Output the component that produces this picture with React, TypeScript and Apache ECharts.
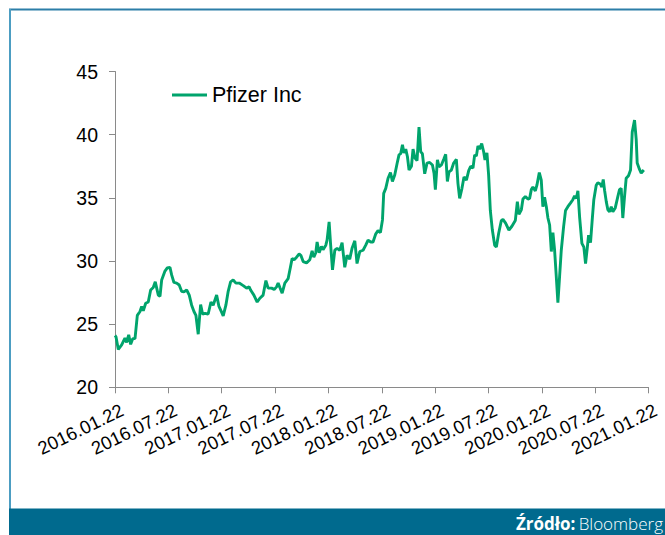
import React, { useEffect, useRef } from "react";
import * as echarts from "echarts";

const tickLabels = [
  "2016.01.22", "2016.07.22", "2017.01.22", "2017.07.22", "2018.01.22", "2018.07.22",
  "2019.01.22", "2019.07.22", "2020.01.22", "2020.07.22", "2021.01.22",
];

// months elapsed since 2016.01.22
const monthOffset = [
  0, 0.11, 0.37, 0.75, 1.12, 1.31, 1.54, 1.76, 1.99, 2.25, 2.51, 2.81, 3.0, 3.18, 3.45, 3.74,
  4.01, 4.3, 4.53, 4.69, 4.87, 5.06, 5.25, 5.62, 5.88, 6.18, 6.37, 6.63, 6.93, 7.22, 7.49, 7.75,
  8.06, 8.35, 8.62, 8.88, 9.1, 9.36, 9.47, 9.63, 9.85, 10.11, 10.48, 10.79, 11.04, 11.43, 11.69, 11.99,
  12.17, 12.47, 12.73, 13.0, 13.29, 13.6, 13.97, 14.42, 14.8, 15.09, 15.25, 15.62, 15.99, 16.29, 16.66, 16.97,
  17.22, 17.61, 17.9, 18.17, 18.35, 18.54, 18.8, 19.1, 19.47, 19.74, 19.92, 20.15, 20.42, 20.71, 20.9, 21.16,
  21.54, 21.91, 22.17, 22.36, 22.58, 22.73, 22.96, 23.22, 23.4, 23.71, 23.85, 24.08, 24.24, 24.46, 24.72, 24.98,
  25.28, 25.54, 25.84, 26.1, 26.4, 26.66, 26.97, 27.22, 27.53, 27.9, 28.2, 28.46, 28.76, 29.02, 29.33, 29.58,
  29.85, 30.08, 30.22, 30.45, 30.71, 30.98, 31.2, 31.46, 31.72, 31.94, 32.13, 32.33, 32.5, 32.7, 32.89, 33.07,
  33.34, 33.52, 33.74, 33.97, 34.19, 34.38, 34.57, 34.83, 35.09, 35.39, 35.7, 35.88, 36.03, 36.26, 36.44, 36.71,
  36.97, 37.19, 37.38, 37.56, 37.83, 38.09, 38.39, 38.57, 38.76, 39.02, 39.25, 39.52, 39.78, 40.0, 40.26, 40.45,
  40.64, 40.82, 41.01, 41.24, 41.46, 41.61, 41.83, 42.02, 42.21, 42.44, 42.7, 42.89, 43.15, 43.45, 43.63, 43.93,
  44.3, 44.64, 45.02, 45.25, 45.43, 45.7, 45.88, 46.15, 46.44, 46.63, 46.82, 47.0, 47.27, 47.45, 47.72, 47.94,
  48.12, 48.31, 48.51, 48.69, 48.88, 49.07, 49.25, 49.44, 49.63, 49.81, 50.0, 50.19, 50.45, 50.67, 50.93, 51.24,
  51.49, 51.69, 51.88, 52.06, 52.25, 52.51, 52.73, 52.92, 53.11, 53.26, 53.48, 53.67, 53.85, 54.12, 54.3, 54.57,
  54.75, 54.91, 55.06, 55.25, 55.43, 55.62, 55.81, 55.99, 56.26, 56.55, 56.74, 56.93, 57.11, 57.3, 57.49, 57.75,
  57.98, 58.17, 58.43, 58.62, 58.73, 58.99, 59.18, 59.47,
];

const price = [
  24.1, 24.0, 23.0, 23.35, 23.9, 23.55, 24.15, 23.4, 23.85, 23.85, 25.7, 26.0, 26.4, 26.05, 26.65, 26.75,
  27.7, 27.9, 28.35, 27.85, 27.3, 27.2, 28.5, 29.2, 29.45, 29.5, 28.9, 28.3, 28.25, 28.1, 27.6, 27.55,
  27.7, 27.3, 26.5, 26.0, 25.7, 24.2, 25.2, 26.55, 25.8, 25.85, 25.8, 26.75, 26.5, 27.3, 26.4, 25.95,
  25.65, 26.5, 27.6, 28.35, 28.5, 28.25, 28.25, 28.05, 27.85, 27.95, 27.7, 27.3, 26.75, 27.05, 27.3, 28.45,
  27.85, 27.85, 27.75, 27.95, 28.25, 27.9, 27.45, 28.25, 28.6, 29.55, 30.2, 30.1, 30.3, 30.55, 30.45, 29.95,
  29.85, 30.1, 30.8, 30.3, 30.65, 31.5, 30.65, 31.15, 30.9, 31.25, 31.65, 33.1, 31.4, 29.3, 30.85, 31.0,
  30.85, 31.45, 29.5, 30.45, 30.15, 31.0, 31.6, 29.8, 30.75, 30.85, 31.25, 31.65, 31.5, 31.5, 32.15, 32.4,
  32.25, 33.25, 35.35, 35.75, 36.55, 37.0, 36.3, 36.8, 37.7, 38.4, 38.5, 39.2, 38.55, 38.85, 38.25, 37.2,
  37.5, 38.85, 38.15, 37.95, 40.6, 38.65, 38.5, 36.9, 37.75, 37.8, 37.6, 36.95, 35.65, 38.0, 37.45, 37.6,
  38.05, 38.45, 36.3, 37.05, 37.2, 37.75, 38.05, 36.15, 34.95, 35.75, 36.65, 36.4, 37.15, 37.5, 37.35, 38.4,
  38.3, 39.1, 38.85, 39.3, 38.65, 38.0, 38.55, 36.8, 34.0, 32.45, 31.25, 31.1, 32.2, 33.2, 33.3, 33.0,
  32.45, 32.75, 33.2, 34.7, 33.7, 34.05, 34.9, 35.1, 34.9, 34.95, 35.65, 35.85, 35.55, 36.0, 37.0, 36.4,
  34.3, 35.05, 34.3, 33.4, 32.85, 30.75, 32.25, 30.85, 28.75, 26.7, 28.75, 30.85, 32.7, 34.0, 34.3, 34.6,
  34.85, 35.15, 34.95, 35.55, 33.5, 31.4, 31.1, 29.8, 31.0, 32.05, 31.45, 33.25, 34.85, 36.0, 36.2, 36.1,
  35.85, 36.45, 35.6, 34.7, 34.05, 33.9, 34.3, 33.9, 34.2, 35.1, 35.65, 35.75, 33.4, 35.05, 36.55, 36.75,
  37.2, 40.2, 41.15, 39.6, 37.75, 37.25, 36.95, 37.2,
];

const seriesName = "Pfizer Inc";
const sourceLabel = "Źródło:";
const sourceName = "Bloomberg";

export default function App() {
  const ref = useRef<HTMLDivElement>(null);

  useEffect(() => {
    const chart = echarts.init(ref.current!, null, { renderer: "svg" });
    const axisColor = "#8a8a8a";
    const lineColor = "#00a46c";
    chart.setOption({
      animation: false,
      backgroundColor: "#ffffff",
      grid: { left: 115, right: 16.5, top: 71.5, bottom: 147.7, containLabel: false },
      legend: {
        data: [seriesName],
        left: 167,
        top: 79,
        icon: "rect",
        itemWidth: 35,
        itemHeight: 3,
        textStyle: {
          fontSize: 21.5,
          color: "#000",
          fontFamily: "Liberation Sans, Arial, sans-serif",
        },
      },
      xAxis: {
        type: "value",
        min: 0,
        max: 60,
        interval: 6,
        splitLine: { show: false },
        axisLine: { show: true, lineStyle: { color: axisColor, width: 1 } },
        axisTick: { show: true, length: 6, lineStyle: { color: axisColor } },
        axisLabel: {
          rotate: 26,
          margin: 25,
          padding: [0, -8, 0, 0],
          fontSize: 18.5,
          color: "#000",
          fontFamily: "Liberation Sans, Arial, sans-serif",
          formatter: (v: number) => tickLabels[Math.round(v / 6)] ?? "",
        },
      },
      yAxis: {
        type: "value",
        min: 20,
        max: 45,
        interval: 5,
        splitLine: { show: false },
        axisLine: { show: true, lineStyle: { color: axisColor, width: 1 } },
        axisTick: { show: true, length: 6, lineStyle: { color: axisColor } },
        axisLabel: {
          margin: 17,
          fontSize: 19.5,
          color: "#000",
          fontFamily: "Liberation Sans, Arial, sans-serif",
        },
      },
      series: [
        {
          type: "line",
          name: seriesName,
          data: monthOffset.map((m, i) => [m, price[i]]),
          symbol: "none",
          lineStyle: { color: lineColor, width: 2.9 },
          itemStyle: { color: lineColor },
        },
      ],
      graphic: [
        {
          type: "line",
          shape: { x1: 9, y1: 9.5, x2: 665, y2: 9.5 },
          style: { stroke: "#2c7ea8", lineWidth: 2 },
        },
        {
          type: "line",
          shape: { x1: 10, y1: 9, x2: 10, y2: 509 },
          style: { stroke: "#4c9dc2", lineWidth: 2 },
        },
        {
          type: "rect",
          shape: { x: 9, y: 508.5, width: 656, height: 27 },
          style: { fill: "#006a8e" },
        },
        {
          type: "text",
          x: 663,
          y: 523,
          style: {
            text: `{b|${sourceLabel}} {r|${sourceName}}`,
            align: "right",
            verticalAlign: "middle",
            rich: {
              b: { fontSize: 17, fontWeight: "bold", fill: "#fff", fontFamily: "Open Sans, sans-serif" },
              r: { fontSize: 17, fontWeight: 300, fill: "#fff", fontFamily: "Open Sans, sans-serif" },
            },
          },
        },
      ],
    });
    return () => chart.dispose();
  }, []);

  return (
    <div
      ref={ref}
      style={{ position: "fixed", left: 0, top: 0, width: 665, height: 535, background: "#fff" }}
    />
  );
}
